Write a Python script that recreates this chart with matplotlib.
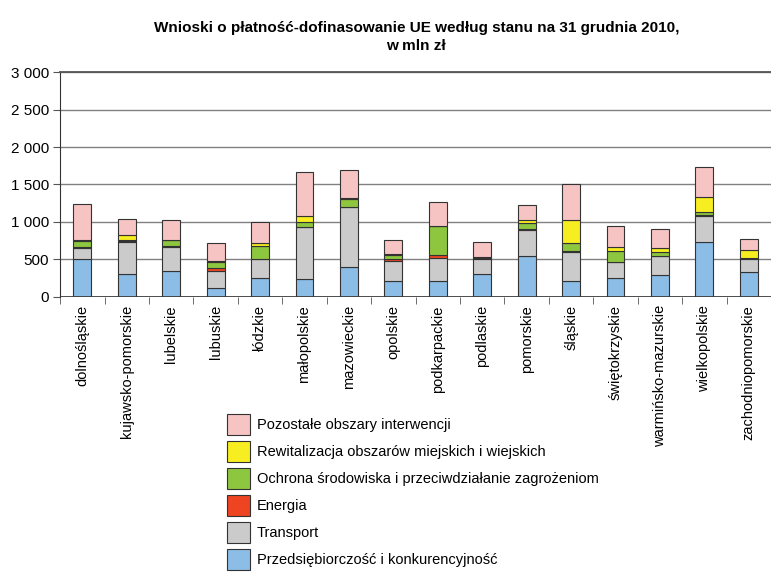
import matplotlib
matplotlib.use("Agg")
import matplotlib.pyplot as plt
import numpy as np
from matplotlib.patches import Patch
from matplotlib.ticker import FuncFormatter

plt.rcParams['font.family'] = ['Liberation Sans', 'DejaVu Sans']

regions = ["dolnośląskie", "kujawsko-pomorskie", "lubelskie", "lubuskie", "łódzkie",
           "małopolskie", "mazowieckie", "opolskie", "podkarpackie", "podlaskie",
           "pomorskie", "śląskie", "świętokrzyskie", "warmińsko-mazurskie",
           "wielkopolskie", "zachodniopomorskie"]

# mln zl
przedsiebiorczosc = [500, 310, 350, 125, 250, 240, 400, 215, 215, 300, 550, 215, 250, 290, 730, 330]
transport = [150, 420, 315, 225, 255, 690, 800, 270, 310, 205, 345, 385, 215, 250, 350, 180]
energia = [10, 15, 15, 35, 5, 5, 5, 15, 30, 15, 10, 15, 5, 5, 10, 5]
ochrona = [90, 20, 75, 85, 175, 60, 105, 65, 385, 10, 80, 110, 140, 55, 40, 5]
rewitalizacja = [15, 60, 10, 15, 40, 80, 10, 10, 10, 5, 40, 300, 55, 50, 200, 110]
pozostale = [480, 210, 255, 235, 270, 590, 370, 185, 310, 200, 205, 475, 280, 255, 400, 145]

series = [
    ("Przedsiębiorczość i konkurencyjność", przedsiebiorczosc, "#8bbde6"),
    ("Transport", transport, "#cbcbcb"),
    ("Energia", energia, "#ee4422"),
    ("Ochrona środowiska i przeciwdziałanie zagrożeniom", ochrona, "#8dc63f"),
    ("Rewitalizacja obszarów miejskich i wiejskich", rewitalizacja, "#f7ee22"),
    ("Pozostałe obszary interwencji", pozostale, "#f7c4c4"),
]

fig = plt.figure(figsize=(7.71, 5.72), dpi=100)
ax = fig.add_axes([0.078, 0.481, 0.922, 0.393])

x = np.arange(len(regions))
bottom = np.zeros(len(regions))
handles = []
for name, vals, col in series:
    ax.bar(x, vals, 0.4, bottom=bottom, color=col, edgecolor="#333333", linewidth=0.8, zorder=3)
    bottom += np.array(vals)
    handles.append(Patch(facecolor=col, edgecolor="#333333", linewidth=0.8, label=name))

ax.set_xlim(-0.5, len(regions) - 0.5)
ax.set_ylim(0, 3000)
ax.set_yticks(np.arange(0, 3001, 500))
ax.yaxis.set_major_formatter(FuncFormatter(lambda v, p: f"{int(v):,}".replace(",", " ")))
ax.grid(axis="y", color="#808080", linewidth=1.0, zorder=0)
ax.set_xticks(x)
ax.set_xticklabels(regions, rotation=90, fontsize=10.5)
ax.set_xticks(np.arange(-0.5, len(regions)), minor=True)
ax.tick_params(axis="x", which="major", length=0, pad=6)
ax.tick_params(axis="x", which="minor", length=5, color="#555555")
ax.tick_params(axis="y", labelsize=11, length=5, color="#555555", pad=3)
for s in ["right", "bottom"]:
    ax.spines[s].set_visible(False)
ax.spines["top"].set_color("#555555")
ax.spines["top"].set_linewidth(1.3)
ax.spines["left"].set_color("#333333")
ax.axhline(0, color="#333333", linewidth=1.2, zorder=4)

fig.text(0.54, 0.963, "Wnioski o płatność-dofinasowanie UE według stanu na 31 grudnia 2010,\nw mln zł",
         ha="center", va="top", fontsize=11, fontweight="bold", linespacing=1.35)

fig.legend(handles=handles[::-1], loc="upper left", bbox_to_anchor=(0.294, 0.276),
           frameon=False, fontsize=10.5, handlelength=1.6, handleheight=1.85,
           labelspacing=0.4, handletextpad=0.45, borderpad=0, borderaxespad=0)

fig.savefig("out.png", dpi=100)
